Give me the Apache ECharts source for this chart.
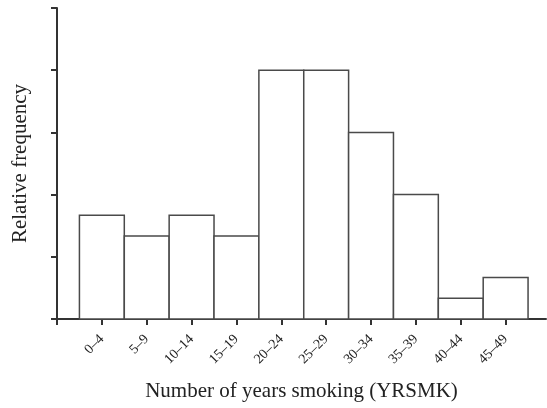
<!DOCTYPE html>
<html>
<head>
<meta charset="utf-8">
<script src="https://cdn.jsdelivr.net/npm/echarts@6/dist/echarts.min.js"></script>
<style>
html,body{margin:0;padding:0;background:#fff;}
#chart{width:547px;height:408px;}
</style>
</head>
<body>
<div id="chart"></div>
<script>
// Data
var binLabels = ['0–4','5–9','10–14','15–19','20–24','25–29','30–34','35–39','40–44','45–49'];
var binStarts = [0,5,10,15,20,25,30,35,40,45];
var binWidth = 5;
var counts = [5,4,5,4,12,12,9,6,1,2];
var xTitle = 'Number of years smoking (YRSMK)';
var yTitle = 'Relative frequency';

var xMin = -2.5, xMax = 52;
var centers = binStarts.map(function(s){ return s + binWidth/2; });
var data = binStarts.map(function(s,i){ return [s, s + binWidth, counts[i]]; });

var chart = echarts.init(document.getElementById('chart'));
var axisColor = '#333';
var fontFam = '"Liberation Serif", "DejaVu Serif", serif';
chart.setOption({
  animation: false,
  backgroundColor: '#fff',
  grid: {left: 57, right: 1, top: 8, bottom: 89},
  xAxis: {
    type: 'value', min: xMin, max: xMax,
    name: xTitle, nameLocation: 'middle', nameGap: 62,
    nameTextStyle: {fontFamily: fontFam, fontSize: 21, color: '#222'},
    axisLine: {show: true, onZero: false, lineStyle: {color: axisColor, width: 2}},
    axisTick: {show: true, length: 6, lineStyle: {color: axisColor, width: 2}, customValues: [xMin].concat(centers)},
    axisLabel: {show: true, rotate: 45, margin: 18, fontFamily: fontFam, fontSize: 14, color: '#222',
      customValues: centers,
      formatter: function(v){ var i = Math.round((v - binWidth/2)/binWidth); return binLabels[i] || ''; }},
    splitLine: {show: false}
  },
  yAxis: {
    type: 'value', min: 0, max: 15, interval: 3,
    name: yTitle, nameLocation: 'middle', nameGap: 26, nameRotate: 90,
    nameTextStyle: {fontFamily: fontFam, fontSize: 21, color: '#222'},
    axisLine: {show: true, onZero: false, lineStyle: {color: axisColor, width: 2}},
    axisTick: {show: true, length: 6, lineStyle: {color: axisColor, width: 2}},
    axisLabel: {show: false},
    splitLine: {show: false}
  },
  series: [{
    type: 'custom',
    data: data,
    renderItem: function(params, api){
      var p0 = api.coord([api.value(0), api.value(2)]);
      var p1 = api.coord([api.value(1), 0]);
      return {
        type: 'rect',
        shape: {x: p0[0], y: p0[1], width: p1[0]-p0[0], height: p1[1]-p0[1]},
        style: {fill: '#fff', stroke: '#4a4a4a', lineWidth: 1.5}
      };
    },
    encode: {x: [0,1], y: 2}
  }]
});
</script>
</body>
</html>
